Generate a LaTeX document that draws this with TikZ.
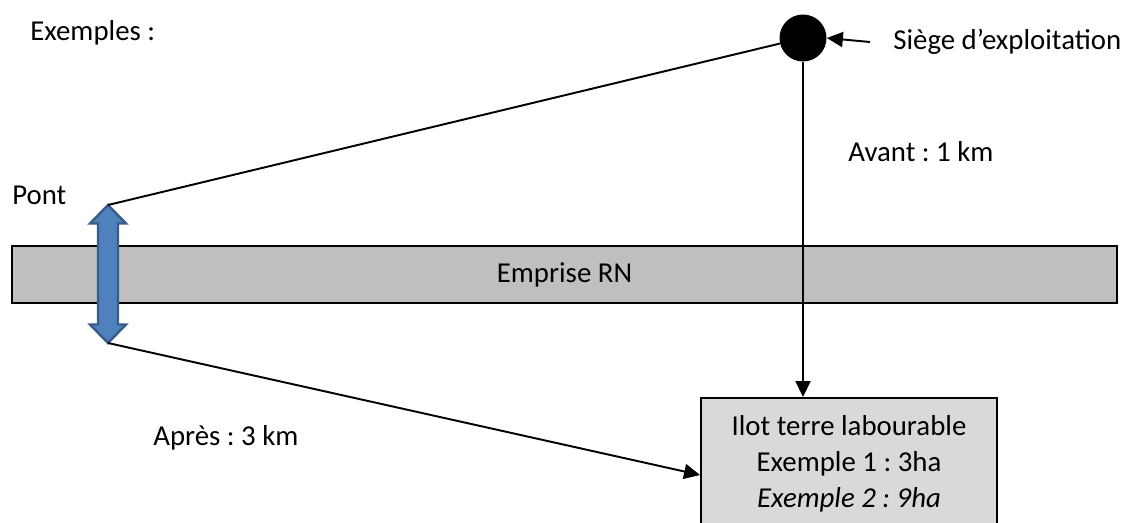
\documentclass[tikz,border=0pt]{standalone}
\usepackage{fontspec}
\setmainfont{Carlito}
\usetikzlibrary{arrows.meta}
\definecolor{pontbleu}{RGB}{79,129,189}
\definecolor{pontbord}{RGB}{56,93,138}
\definecolor{routegris}{RGB}{191,191,191}
\definecolor{ilotgris}{RGB}{217,217,217}
\frenchspacing
\tikzset{
	fleche/.style={line width=1.1pt,-{Triangle[length=3.2mm,width=3mm]}},
	trait/.style={line width=1.1pt},
	texte/.style={anchor=west,inner sep=0pt}
}
\begin{document}
\begin{tikzpicture}[font=\fontsize{16.4}{20.5}\selectfont]
		\useasboundingbox (0,0) rectangle (22.62,10.44);
		% route
		\node [draw,line width=1.1pt,fill=routegris,minimum width=22.1cm,minimum height=1.14cm,inner sep=0pt] (route) at (11.29,4.95) {Emprise RN};
		
		% pont
		\draw [fill=pontbleu,draw=pontbord,line width=1.4pt] (2.16,6.34) -- (2.52,5.97) -- (2.36,5.97) -- (2.36,3.95) -- (2.52,3.95) -- (2.16,3.58) -- (1.80,3.95) -- (1.96,3.95) -- (1.96,5.97) -- (1.80,5.97) -- cycle;
		\coordinate (ponthaut) at (2.16,6.34);
		\coordinate (pontbas) at (2.16,3.58);
		
		\node [circle,fill=black,minimum size=0.94cm,inner sep=0pt] (siege) at (16.06,9.68) {};
		\node [draw,line width=1.1pt,fill=ilotgris,minimum width=5.92cm,minimum height=2.64cm,align=center] (ilot) at (16.98,1.16) {Ilot terre labourable\\Exemple 1 : 3ha\\\textit{Exemple 2 : 9ha}};
		
		\node [texte] (exemples) at (0.6,9.78) {Exemples :};
		\node [texte] (sige) at (17.86,9.6) {Siège d’exploitation};
		\node [texte] (pont) at (0.24,6.54) {Pont};
		\node [texte] (avant) at (16.96,7.4) {Avant : 1 km};
		\node [texte] (apres) at (3.06,1.68) {Après : 3 km};
		
		\draw [trait] (ponthaut) -- (siege);
		\draw [fleche] (siege) -- (siege |- ilot.north);
		\draw [fleche] (pontbas) -- ([yshift=-2.2mm]ilot.west);
		\draw [fleche] ([xshift=-4.6mm]sige.west) -- (siege.east);
	\end{tikzpicture}
\end{document}
